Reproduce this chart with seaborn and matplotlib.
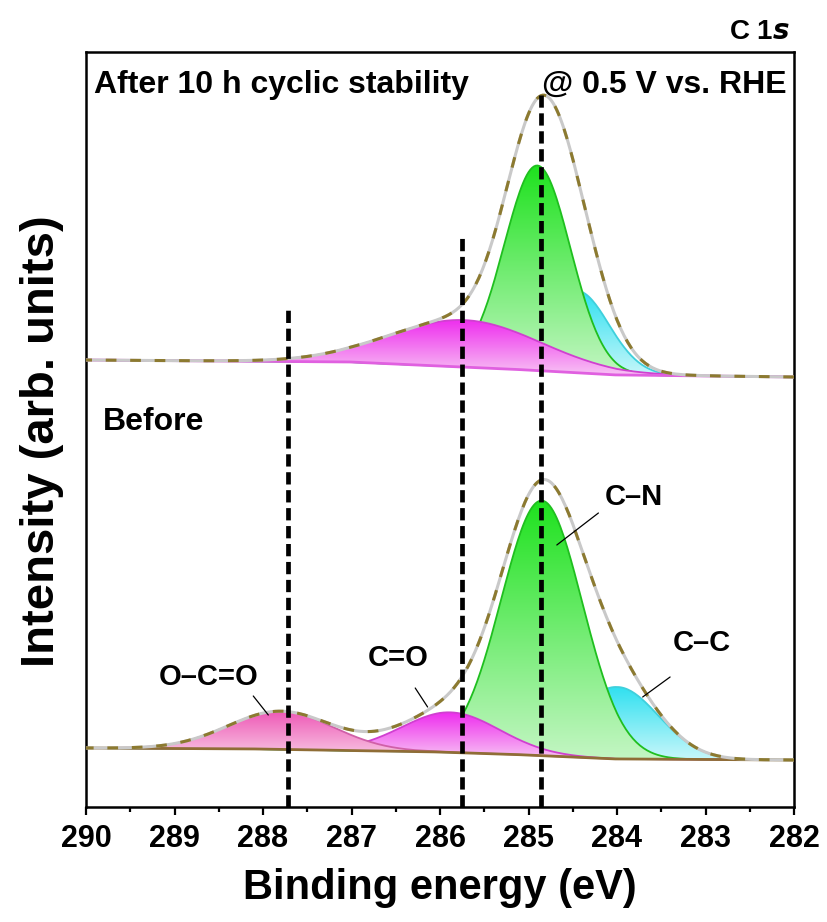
import numpy as np
import pandas as pd
import matplotlib
matplotlib.use("Agg")
import matplotlib.pyplot as plt
import seaborn as sns
from matplotlib.colors import LinearSegmentedColormap

# ---------------- data ----------------
energy_grid = np.arange(282.0, 290.0001, 0.02)          # binding energy sampling (eV)

# "Before" spectrum: fitted components (center eV, height, FWHM eV)
before_names = ["O–C=O", "C=O", "C–N", "C–C"]
before_centers = [287.80, 285.88, 284.85, 284.00]
before_heights = [38, 40, 255, 72]
before_fwhm = [1.40, 1.30, 1.08, 1.10]
before_bg_energy = [282, 284, 285, 286, 288, 290]
before_bg_level = [47, 48, 52, 55, 58, 59]

# "After 10 h" spectrum
after_names = ["C=O", "C–N", "C–C"]
after_centers = [285.72, 284.90, 284.45]
after_heights = [47, 205, 82]
after_fwhm = [2.00, 0.88, 0.85]
after_bg_energy = [282, 284, 285, 286, 287, 290]
after_bg_level = [430, 432, 437, 441, 445, 447]

# reference (dashed) lines: energy and top level
ref_energy = [287.72, 285.75, 284.86]
ref_top = [502, 574, 712]

# ---------------- styles ----------------
comp_style = {
    "C–N":   ("#1ee21e", "#c4f6c4", "#1fbf1f"),
    "C–C":   ("#2ee0f0", "#c8f7fa", "#3fd0dc"),
    "C=O":   ("#ee2cee", "#f8c8f4", "#d040d0"),
    "O–C=O": ("#ee58b6", "#f9cfe7", "#d060a8"),
}

sns.set_theme(style="ticks")
plt.rcParams["font.family"] = ["Liberation Sans", "DejaVu Sans"]
plt.rcParams["font.weight"] = "bold"
plt.rcParams["axes.labelweight"] = "bold"
plt.rcParams["text.color"] = "black"
plt.rcParams["axes.labelcolor"] = "black"
plt.rcParams["xtick.color"] = "black"
plt.rcParams["ytick.color"] = "black"

fig = plt.figure(figsize=(8.28, 9.22), dpi=100)
ax = fig.add_axes([86 / 828, 1 - 807 / 922, (794 - 86) / 828, (807 - 52) / 922])


def gauss(x, c, h, w):
    return h * np.exp(-4 * np.log(2) * ((x - c) / w) ** 2)


def gradient_fill(ax, x, top, base, c_top, c_bot, edge, z):
    poly = ax.fill_between(x, base, top, facecolor="none", lw=0, zorder=z)
    cmap = LinearSegmentedColormap.from_list("g", [c_bot, c_top])
    grad = np.linspace(0, 1, 256).reshape(-1, 1)
    im = ax.imshow(grad, cmap=cmap, aspect="auto", origin="lower",
                   extent=(x.min(), x.max(), base.min(), top.max()),
                   zorder=z, interpolation="bilinear")
    im.set_clip_path(poly.get_paths()[0], transform=ax.transData)
    ax.plot(x, top, color=edge, lw=1.3, zorder=z + 0.1)


def draw_spectrum(names, centers, heights, fwhm, bg_e, bg_l, order, z0, base_col):
    x = energy_grid
    base = np.interp(x, bg_e, bg_l)
    comps = {n: gauss(x, c, h, w) for n, c, h, w in zip(names, centers, heights, fwhm)}
    for i, n in enumerate(order):
        ct, cb, ce = comp_style[n]
        gradient_fill(ax, x, base + comps[n], base, ct, cb, ce, z0 + i)
    envelope = base + sum(comps.values())
    df = pd.DataFrame({"energy": x, "intensity": envelope})
    sns.lineplot(data=df, x="energy", y="intensity", ax=ax, color="#c9c9c9",
                 lw=2.2, zorder=z0 + 10, sort=False)
    sns.lineplot(data=df, x="energy", y="intensity", ax=ax, color="#8c7a30",
                 lw=2.2, zorder=z0 + 11, sort=False,
                 linestyle=(0, (3.5, 4.5)))
    dfb = pd.DataFrame({"energy": x, "intensity": base})
    sns.lineplot(data=dfb, x="energy", y="intensity", ax=ax, color=base_col,
                 lw=2.0, zorder=z0 + 9, sort=False)


draw_spectrum(before_names, before_centers, before_heights, before_fwhm,
              before_bg_energy, before_bg_level,
              ["C–C", "C–N", "C=O", "O–C=O"], 2, "#8f6d36")
draw_spectrum(after_names, after_centers, after_heights, after_fwhm,
              after_bg_energy, after_bg_level,
              ["C–C", "C–N", "C=O"], 20, "#e060e0")

# dashed reference lines
for e, t in zip(ref_energy, ref_top):
    ax.plot([e, e], [0, t], color="black", lw=3.4, linestyle=(0, (2.6, 1.2)),
            zorder=40)

# peak labels with pointer lines
lab_kw = dict(fontsize=21, fontweight="bold", ha="center", va="center", zorder=50)
for txt, tx, ty, x0, y0, x1, y1 in [
    ("C–N", 283.81, 310, 284.21, 294, 284.68, 262),
    ("C–C", 283.04, 164, 283.40, 130, 283.71, 110),
    ("C=O", 286.47, 149, 286.28, 119, 286.14, 100),
    ("O–C=O", 288.61, 130, 288.11, 111, 287.94, 92),
]:
    ax.text(tx, ty, txt, **lab_kw)
    ax.plot([x0, x1], [y0, y1], color="black", lw=0.9, zorder=50)

# texts
ax.text(0.011, 0.956, "After 10 h cyclic stability", transform=ax.transAxes,
        fontsize=23, fontweight="bold", ha="left", va="center", zorder=60)
ax.text(0.989, 0.956, "@ 0.5 V vs. RHE", transform=ax.transAxes,
        fontsize=23, fontweight="bold", ha="right", va="center", zorder=60)
ax.text(0.024, 0.51, "Before", transform=ax.transAxes,
        fontsize=23, fontweight="bold", ha="left", va="center", zorder=60)
ax.text(0.994, 1.027, "C 1$\\bf{\\it{s}}$", transform=ax.transAxes,
        fontsize=20, fontweight="bold", ha="right", va="center")

# axes
ax.set_xlim(290, 282)
ax.set_ylim(0, 755)
ax.set_xticks(np.arange(282, 290.1, 1))
ax.set_xticks(np.arange(282.5, 290, 1), minor=True)
ax.set_xticklabels([str(v) for v in range(282, 291)])
ax.set_yticks([])
ax.tick_params(axis="x", which="major", direction="out", length=6, width=1.6,
               labelsize=22, pad=6)
ax.tick_params(axis="x", which="minor", direction="out", length=3.5, width=1.6)
for lbl in ax.get_xticklabels():
    lbl.set_fontweight("bold")
for sp in ax.spines.values():
    sp.set_visible(True)
    sp.set_linewidth(1.8)
    sp.set_color("black")

ax.set_xlabel("Binding energy (eV)", fontsize=30, fontweight="bold")
ax.set_ylabel("Intensity (arb. units)", fontsize=34, fontweight="bold")
ax.xaxis.set_label_coords(0.5, -(888 - 807) / 755)
ax.xaxis.label.set_verticalalignment("center")
ax.yaxis.set_label_coords(-(86 - 42) / 708, (807 - 441) / 755)
ax.yaxis.label.set_verticalalignment("center")

fig.savefig("out.png", dpi=100)
